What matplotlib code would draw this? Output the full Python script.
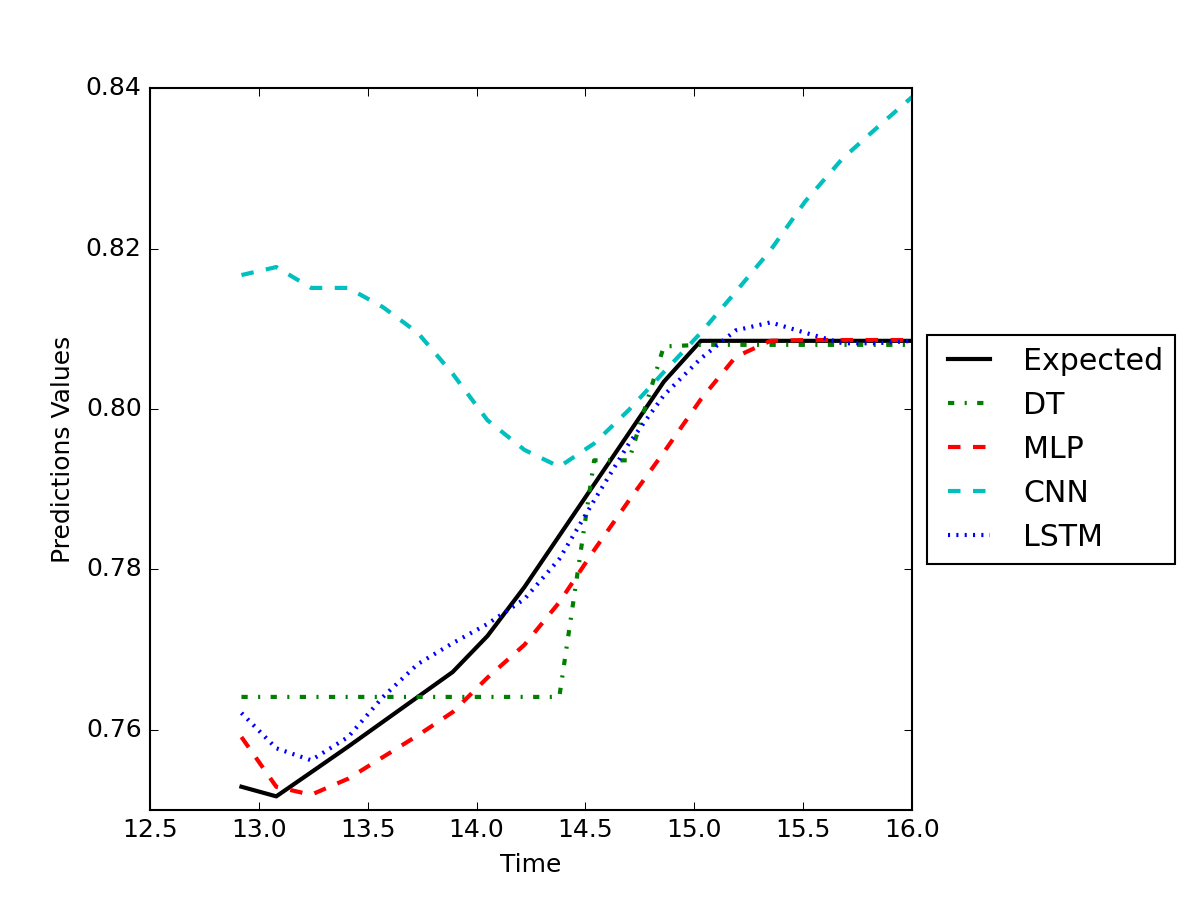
"""Model predictions vs expected values over time."""
import matplotlib
matplotlib.use("Agg")
import matplotlib.pyplot as plt

plt.style.use("classic")

time = [12.92, 13.08, 13.24, 13.41, 13.57, 13.73, 13.89, 14.05, 14.22, 14.38,
        14.54, 14.70, 14.86, 15.03, 15.19, 15.35, 15.51, 15.68, 15.84, 16.00]

expected = [0.7529, 0.7517, 0.7547, 0.7579, 0.7610, 0.7641, 0.7672, 0.7717, 0.7778, 0.7842,
            0.7906, 0.7970, 0.8034, 0.8085, 0.8085, 0.8085, 0.8085, 0.8085, 0.8085, 0.8085]
dt = [0.7641, 0.7641, 0.7641, 0.7641, 0.7641, 0.7641, 0.7641, 0.7641, 0.7641, 0.7641,
      0.7936, 0.7936, 0.8078, 0.8080, 0.8080, 0.8080, 0.8080, 0.8080, 0.8080, 0.8080]
mlp = [0.7591, 0.7529, 0.7519, 0.7539, 0.7566, 0.7593, 0.7622, 0.7665, 0.7706, 0.7759,
       0.7824, 0.7886, 0.7946, 0.8012, 0.8065, 0.8085, 0.8086, 0.8086, 0.8086, 0.8086]
cnn = [0.8167, 0.8177, 0.8151, 0.8151, 0.8127, 0.8095, 0.8044, 0.7986, 0.7949, 0.7928,
       0.7957, 0.7999, 0.8046, 0.8095, 0.8146, 0.8198, 0.8259, 0.8312, 0.8351, 0.8389]
lstm = [0.7621, 0.7577, 0.7562, 0.7591, 0.7641, 0.7682, 0.7708, 0.7732, 0.7763, 0.7813,
        0.7886, 0.7957, 0.8017, 0.8063, 0.8098, 0.8108, 0.8095, 0.8082, 0.8082, 0.8085]

fig = plt.figure(figsize=(8, 6), dpi=150, facecolor="white")
ax = fig.add_axes([0.125, 0.1, 0.635, 0.802])

ax.plot(time, expected, "k-", lw=2, label="Expected")
ax.plot(time, dt, "g-.", lw=2, label="DT")
ax.plot(time, mlp, "r--", lw=2, label="MLP")
ax.plot(time, cnn, "c--", lw=2, label="CNN")
ax.plot(time, lstm, "b:", lw=2, label="LSTM")

ax.set_xlim(12.5, 16.0)
ax.set_ylim(0.75, 0.84)
ax.set_yticks([0.76, 0.78, 0.80, 0.82, 0.84])
ax.set_xlabel("Time")
ax.set_ylabel("Predictions Values")
ax.legend(loc="center left", bbox_to_anchor=(1.0, 0.5))

fig.savefig("out.png", dpi=150, facecolor="white")
